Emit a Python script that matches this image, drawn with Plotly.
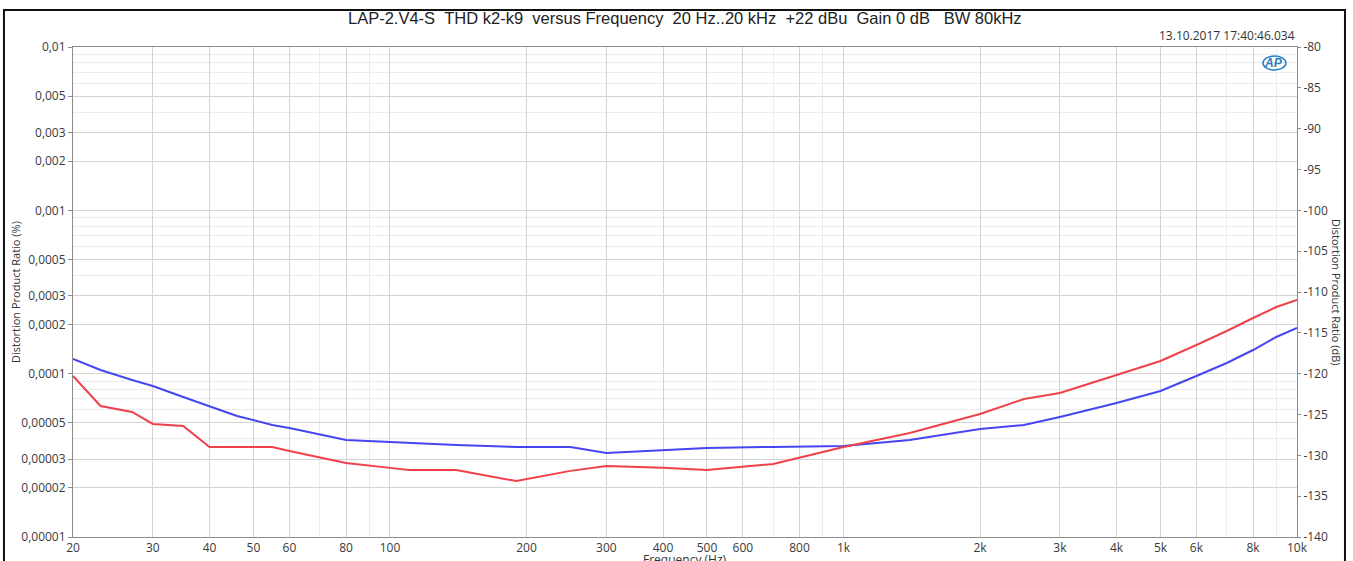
import plotly.graph_objects as go

# Frequency points (Hz)
freq = [20, 23, 27, 30, 35, 40, 46, 55, 60, 80, 100, 110, 140, 190, 250, 300,
        400, 500, 700, 1000, 1400, 2000, 2500, 3000, 4000, 5000, 6000, 7000,
        8000, 9000, 10000]

# Distortion product ratio (%), channel A (blue) and channel B (red)
thd_blue = [1.229e-4, 1.053e-4, 9.15e-5, 8.41e-5, 7.20e-5, 6.34e-5, 5.51e-5,
            4.85e-5, 4.65e-5, 3.93e-5, 3.82e-5, 3.76e-5, 3.66e-5, 3.56e-5,
            3.56e-5, 3.27e-5, 3.41e-5, 3.51e-5, 3.56e-5, 3.61e-5, 3.93e-5,
            4.58e-5, 4.85e-5, 5.43e-5, 6.61e-5, 7.83e-5, 9.68e-5, 1.162e-4,
            1.396e-4, 1.677e-4, 1.904e-4]
thd_red = [9.68e-5, 6.34e-5, 5.83e-5, 4.92e-5, 4.78e-5, 3.56e-5, 3.56e-5,
           3.56e-5, 3.36e-5, 2.84e-5, 2.65e-5, 2.57e-5, 2.57e-5, 2.20e-5,
           2.54e-5, 2.72e-5, 2.65e-5, 2.57e-5, 2.80e-5, 3.56e-5, 4.33e-5,
           5.66e-5, 7.00e-5, 7.61e-5, 9.81e-5, 1.195e-4, 1.498e-4, 1.825e-4,
           2.192e-4, 2.559e-4, 2.825e-4]

# Axis ticks
x_ticks = [20, 30, 40, 50, 60, 80, 100, 200, 300, 400, 500, 600, 800,
           1000, 2000, 3000, 4000, 5000, 6000, 8000, 10000]
x_labels = ["20", "30", "40", "50", "60", "80", "100", "200", "300", "400",
            "500", "600", "800", "1k", "2k", "3k", "4k", "5k", "6k", "8k", "10k"]
x_minor = [70, 90, 700, 900, 7000, 9000]

y_ticks = [0.01, 0.005, 0.003, 0.002, 0.001, 0.0005, 0.0003, 0.0002, 0.0001,
           0.00005, 0.00003, 0.00002, 0.00001]
y_labels = ["0,01", "0,005", "0,003", "0,002", "0,001", "0,0005", "0,0003",
            "0,0002", "0,0001", "0,00005", "0,00003", "0,00002", "0,00001"]
y_minor = [0.009, 0.008, 0.007, 0.006, 0.004, 0.0009, 0.0008, 0.0007, 0.0006,
           0.0004, 0.00009, 0.00008, 0.00007, 0.00006, 0.00004]

db_ticks = [-140, -135, -130, -125, -120, -115, -110, -105, -100, -95, -90, -85, -80]
db_labels = ["-140", "-135", "-130", "-125", "-120", "-115", "-110", "-105",
             "-100", "-95", "-90", "-85", "-80"]

TITLE = ("LAP-2.V4-S  THD k2-k9  versus Frequency  20 Hz..20 kHz  +22 dBu  "
         "Gain 0 dB   BW 80kHz").replace(" ", "\u00a0")

SANS = "Open Sans, Liberation Sans, sans-serif"
TICK_FONT = {"family": SANS, "size": 12, "color": "#3a3a3a"}
GRID = "#d4d4d4"
MINOR_GRID = "#ececec"
AXIS = "#8c8c8c"

fig = go.Figure()

fig.add_trace(go.Scatter(x=freq, y=thd_blue, mode="lines",
                         line={"color": "#4646f0", "width": 2}, showlegend=False))
fig.add_trace(go.Scatter(x=freq, y=thd_red, mode="lines",
                         line={"color": "#f0414b", "width": 2}, showlegend=False))
# Empty trace so the right-hand dB axis is drawn
fig.add_trace(go.Scatter(x=[None], y=[None], yaxis="y2", showlegend=False,
                         hoverinfo="skip"))

fig.update_layout(
    width=1353,
    height=561,
    margin={"l": 73, "r": 56, "t": 47, "b": 24, "autoexpand": False},
    paper_bgcolor="white",
    plot_bgcolor="white",
    xaxis={
        "type": "log",
        "range": [1.30103, 4],
        "automargin": False,
        "tickmode": "array",
        "tickvals": x_ticks,
        "ticktext": x_labels,
        "tickfont": TICK_FONT,
        "ticks": "",
        "showgrid": True,
        "gridcolor": GRID,
        "showline": True,
        "linecolor": AXIS,
        "mirror": True,
        "zeroline": False,
        "minor": {"tickmode": "array", "tickvals": x_minor, "showgrid": True,
                  "gridcolor": MINOR_GRID, "ticks": ""},
    },
    yaxis={
        "type": "log",
        "range": [-5, -2],
        "automargin": False,
        "tickmode": "array",
        "tickvals": y_ticks,
        "ticktext": y_labels,
        "tickfont": TICK_FONT,
        "ticks": "outside",
        "ticklen": 4,
        "tickcolor": AXIS,
        "showgrid": True,
        "gridcolor": GRID,
        "showline": True,
        "linecolor": AXIS,
        "mirror": True,
        "zeroline": False,
        "minor": {"tickmode": "array", "tickvals": y_minor, "showgrid": True,
                  "gridcolor": MINOR_GRID, "ticks": ""},
    },
    yaxis2={
        "overlaying": "y",
        "side": "right",
        "range": [-140, -80],
        "automargin": False,
        "tickmode": "array",
        "tickvals": db_ticks,
        "ticktext": db_labels,
        "tickfont": TICK_FONT,
        "ticks": "outside",
        "ticklen": 3,
        "tickcolor": AXIS,
        "showgrid": False,
        "zeroline": False,
    },
    annotations=[
        {"text": TITLE, "x": 0.5, "y": 1.0, "yanchor": "bottom", "yshift": 18,
         "xref": "paper", "yref": "paper", "showarrow": False,
         "font": {"family": "Liberation Sans, Arial", "size": 16.5, "color": "#222"}},
        {"text": "13.10.2017 17:40:46.034", "x": 1.0, "xanchor": "right",
         "y": 1.0, "yanchor": "bottom", "yshift": 1, "xref": "paper", "yref": "paper",
         "showarrow": False, "font": {"family": SANS, "size": 12, "color": "#333"}},
        {"text": "<b><i>AP</i></b>", "x": 0.9806, "xanchor": "center", "y": 0.9673,
         "yanchor": "middle", "xref": "paper", "yref": "paper", "showarrow": False,
         "font": {"family": "Liberation Sans, Arial", "size": 12, "color": "#2a7fc0"}},
        {"text": "Distortion Product Ratio (%)", "x": -0.0474, "xanchor": "center",
         "y": 0.5, "xref": "paper", "yref": "paper", "textangle": -90, "showarrow": False,
         "font": {"family": SANS, "size": 11, "color": "#333"}},
        {"text": "Distortion Product Ratio (dB)", "x": 1.0327, "xanchor": "center",
         "y": 0.5, "xref": "paper", "yref": "paper", "textangle": 90, "showarrow": False,
         "font": {"family": SANS, "size": 11, "color": "#333"}},
        {"text": "Frequency (Hz)", "x": 0.5, "y": 0, "yshift": -12, "xref": "paper",
         "yref": "paper", "yanchor": "top", "showarrow": False,
         "font": {"family": SANS, "size": 12, "color": "#333"}},
    ],
    shapes=[
        # outer frame of the picture
        {"type": "rect", "xref": "paper", "yref": "paper", "x0": -0.0564, "x1": 1.0392,
         "y0": -0.07, "y1": 1.0755, "line": {"color": "#111", "width": 2}},
        # ring of the AP logo
        {"type": "circle", "xref": "paper", "yref": "paper", "x0": 0.9722, "x1": 0.991,
         "y0": 0.953, "y1": 0.9816, "line": {"color": "#2a7fc0", "width": 1.5}},
    ],
)

# drop the browser's default 8px body margin so the figure fills the window
fig.write_html("out.html", config={"displayModeBar": False},
               post_script="document.body.style.margin = '0';")
